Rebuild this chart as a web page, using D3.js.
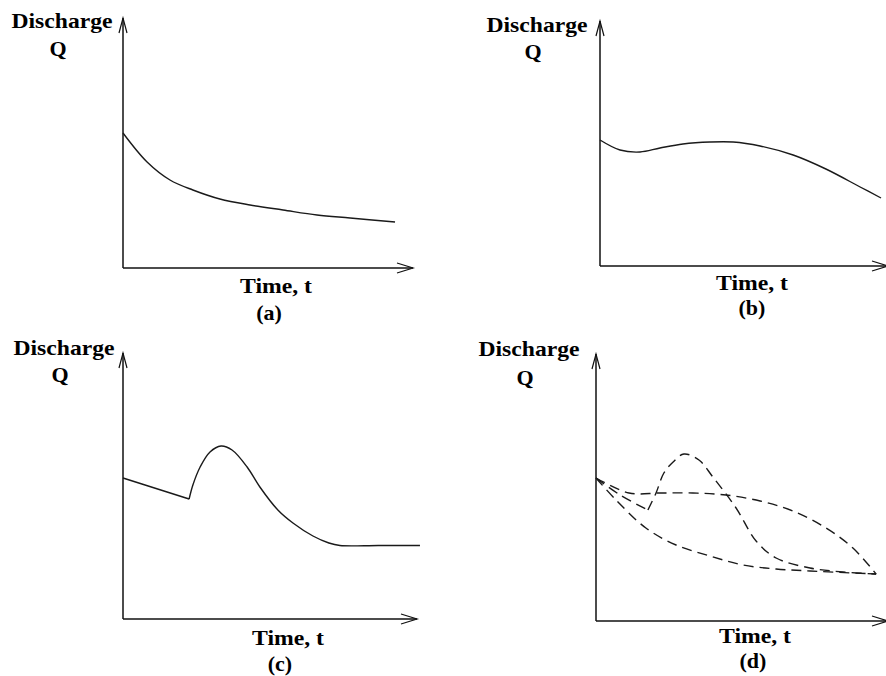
<!DOCTYPE html>
<html>
<head>
<title>Discharge hydrographs</title>
<script src="https://d3js.org/d3.v7.min.js"></script>
<style>
  body { margin: 0; background: #fff; }
  .lbl { font-family: "Liberation Serif", "Times New Roman", serif; font-weight: bold; font-size: 22px; fill: #000; }
  .axis-line { stroke: #111; stroke-width: 1.5; fill: none; }
  .curve { stroke: #1a1a1a; stroke-width: 1.4; fill: none; }
  .dashed { stroke-dasharray: 10,6; }
</style>
</head>
<body>
<div id="chartDiv"></div>
<script>
// ---- data (time t, discharge Q in arbitrary units) ----
// corner = index of a sharp kink in the curve (-1 if none)
var tA = [0, 0.83, 1.62, 2.41, 3.34, 4.38, 5.52, 6.69, 7.83, 9.38];
var qA = [5.4, 4.24, 3.52, 3.12, 2.76, 2.52, 2.32, 2.12, 2.0, 1.84];

var tB = [0, 0.69, 1.38, 2.07, 2.86, 3.79, 4.59, 5.52, 6.66, 7.79, 8.97, 9.69];
var qB = [5.04, 4.64, 4.56, 4.72, 4.88, 4.96, 4.96, 4.8, 4.44, 3.88, 3.16, 2.72];

var tC = [0, 2.28, 2.41, 2.66, 3.0, 3.38, 3.76, 4.28, 4.72, 5.34, 5.86, 6.55, 7.1, 7.48, 8.8, 10.24];
var qC = [5.64, 4.8, 5.36, 6.08, 6.68, 6.92, 6.76, 6.08, 5.28, 4.36, 3.84, 3.32, 3.04, 2.94, 2.94, 2.94];
var cornerC = 1;

var tD1 = [0, 0.69, 1.72, 2.76, 3.93, 5.07, 6.21, 7.38, 9.66];
var qD1 = [5.72, 4.84, 3.72, 3.04, 2.6, 2.24, 2.08, 2.0, 1.88];

var tD2 = [0, 1.14, 2.21, 3.34, 4.48, 5.66, 6.79, 7.93, 8.86, 9.66];
var qD2 = [5.72, 5.12, 5.12, 5.12, 5.04, 4.8, 4.4, 3.72, 2.92, 1.88];

var tD3 = [0, 0.83, 1.79, 2.07, 2.34, 2.66, 3.03, 3.55, 4.03, 4.83, 5.52, 6.21, 7.38, 8.52, 9.66];
var qD3 = [5.72, 5.04, 4.44, 5.12, 5.92, 6.36, 6.68, 6.44, 5.76, 4.52, 3.2, 2.52, 2.12, 1.96, 1.88];
var cornerD3 = 2;

var tags = ["(a)", "(b)", "(c)", "(d)"];

// ---- layout of the four panels ----
var panels = [
  { ox: 123, oy: 268, xLen: 290, yLen: 250, series: [[tA, qA, -1]], dashed: false,
    disc: [62, 28], q: [58, 56], time: [276, 293], tag: [269, 320] },
  { ox: 600, oy: 266, xLen: 288, yLen: 245, series: [[tB, qB, -1]], dashed: false,
    disc: [537, 32], q: [533, 59], time: [752, 290], tag: [752, 315] },
  { ox: 123, oy: 619, xLen: 294, yLen: 266, series: [[tC, qC, cornerC]], dashed: false,
    disc: [64, 355], q: [60, 382], time: [288, 645], tag: [280, 671] },
  { ox: 596, oy: 621, xLen: 292, yLen: 267,
    series: [[tD1, qD1, -1], [tD2, qD2, -1], [tD3, qD3, cornerD3]], dashed: true,
    disc: [529, 356], q: [525, 385], time: [755, 643], tag: [753, 668] }
];

var svg = d3.select('#chartDiv')
  .append('svg')
  .attr('width', 886)
  .attr('height', 676);

panels.forEach(function(p, i) {
  var g = svg.append('g');

  // same units in every panel: 29 px per t, 25 px per Q
  var x = d3.scaleLinear().domain([0, 10]).range([p.ox, p.ox + 290]);
  var y = d3.scaleLinear().domain([0, 10]).range([p.oy, p.oy - 250]);

  // axes with open arrow heads
  var xEnd = p.ox + p.xLen, yEnd = p.oy - p.yLen;
  g.append('line').attr('class', 'axis-line')
    .attr('x1', p.ox).attr('y1', p.oy).attr('x2', xEnd).attr('y2', p.oy);
  g.append('line').attr('class', 'axis-line')
    .attr('x1', p.ox).attr('y1', p.oy).attr('x2', p.ox).attr('y2', yEnd);
  g.append('path').attr('class', 'axis-line').style('stroke-width', 1.2)
    .attr('d', 'M' + (xEnd - 16) + ',' + (p.oy - 5) + 'L' + xEnd + ',' + p.oy + 'L' + (xEnd - 16) + ',' + (p.oy + 5));
  g.append('path').attr('class', 'axis-line').style('stroke-width', 1.2)
    .attr('d', 'M' + (p.ox - 4) + ',' + (yEnd + 15) + 'L' + p.ox + ',' + yEnd + 'L' + (p.ox + 4) + ',' + (yEnd + 15));

  // curves
  var line = d3.line()
    .x(function(d) { return x(d[0]); })
    .y(function(d) { return y(d[1]); })
    .curve(d3.curveCatmullRom.alpha(0.5));

  p.series.forEach(function(s) {
    var pts = s[0].map(function(t, j) { return [t, s[1][j]]; });
    var d;
    if (s[2] > 0) {
      // break the smoothing at the kink
      d = line(pts.slice(0, s[2] + 1)) + line(pts.slice(s[2]));
    } else {
      d = line(pts);
    }
    g.append('path')
      .attr('class', p.dashed ? 'curve dashed' : 'curve')
      .attr('d', d);
  });

  // labels
  g.append('text').attr('class', 'lbl')
    .attr('x', p.disc[0]).attr('y', p.disc[1])
    .attr('text-anchor', 'middle')
    .attr('textLength', 101).attr('lengthAdjust', 'spacingAndGlyphs')
    .text('Discharge');
  g.append('text').attr('class', 'lbl')
    .attr('x', p.q[0]).attr('y', p.q[1])
    .attr('text-anchor', 'middle')
    .text('Q');
  g.append('text').attr('class', 'lbl')
    .attr('x', p.time[0]).attr('y', p.time[1])
    .attr('text-anchor', 'middle')
    .attr('textLength', 72).attr('lengthAdjust', 'spacingAndGlyphs')
    .text('Time, t');
  g.append('text').attr('class', 'lbl')
    .attr('x', p.tag[0]).attr('y', p.tag[1])
    .attr('text-anchor', 'middle')
    .text(tags[i]);
});
</script>
</body>
</html>
